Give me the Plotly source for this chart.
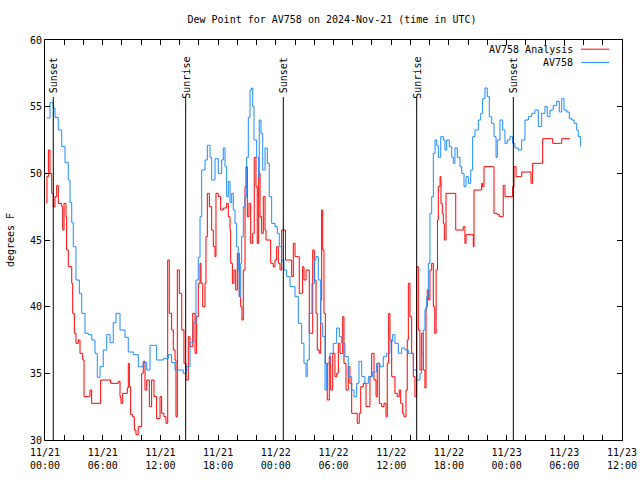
import pandas as pd
import plotly.graph_objects as go

START = pd.Timestamp("2024-11-21 00:00")

# AV758 (observed) - hours since 2024-11-21 00:00 UTC, dew point degF
obs_hours = [0.18, 0.52, 0.86, 1.04, 1.38, 1.74, 2.08, 2.42, 2.60, 2.78, 2.94, 3.22, 3.57, 3.82,
             4.16, 4.50, 4.86, 5.20, 5.44, 5.72, 6.06, 6.42, 6.76, 7.10, 7.38, 7.80, 8.32, 8.66,
             9.18, 9.70, 10.22, 10.58, 10.92, 11.26, 11.61, 12.30, 12.82, 13.17, 13.52, 14.04,
             14.38, 14.73, 15.08, 15.42, 15.70, 15.94, 16.12, 16.29, 16.64, 16.88, 17.16, 17.33,
             17.68, 18.02, 18.37, 18.54, 18.72, 18.89, 19.06, 19.24, 19.41, 19.58, 19.76, 19.93,
             20.10, 20.20, 20.35, 20.45, 20.62, 20.80, 20.97, 21.14, 21.32, 21.49, 21.60, 21.73,
             22.01, 22.22, 22.28, 22.46, 22.64, 22.88, 23.12, 23.32, 23.57, 23.92, 24.16, 24.36,
             24.61, 24.85, 25.13, 25.48, 26.00, 26.34, 26.69, 26.93, 27.14, 27.27, 27.48, 27.76,
             28.04, 28.18, 28.42, 28.67, 28.88, 29.12, 29.29, 29.63, 29.98, 30.33, 30.60, 30.85,
             31.19, 31.54, 31.89, 32.13, 32.41, 32.65, 32.93, 33.27, 33.62, 34.07, 34.49, 34.83,
             35.18, 35.53, 35.87, 36.15, 36.39, 36.74, 37.09, 37.43, 37.78, 38.30, 38.65, 38.99,
             39.17, 39.34, 39.51, 39.69, 39.86, 40.03, 40.21, 40.38, 40.56, 40.73, 40.90, 41.15,
             41.42, 41.59, 41.77, 42.04, 42.29, 42.46, 42.63, 42.87, 43.15, 43.33, 43.57, 43.78,
             44.02, 44.27, 44.47, 44.71, 45.06, 45.31, 45.51, 45.75, 45.99, 46.20, 46.45, 46.69,
             46.90, 47.03, 47.31, 47.59, 47.83, 48.07, 48.35, 48.63, 48.87, 49.22, 49.57, 49.91,
             50.26, 50.61, 50.95, 51.30, 51.65, 51.99, 52.23, 52.51, 52.85, 53.21, 53.48, 53.73,
             53.97, 54.25, 54.52, 54.77, 55.01, 55.29, 55.45, 55.70]
obs_values = [54.15, 55.3, 54.9, 54.2, 53.25, 52.0, 50.8, 49.5, 47.8, 46.3, 44.5, 42.0, 41.0, 39.5,
              38.0, 37.9, 37.5, 36.5, 34.7, 35.5, 36.75, 37.9, 37.3, 38.8, 39.5, 38.25, 37.7, 36.6,
              36.4, 35.5, 35.8, 35.25, 37.1, 37.1, 36.0, 36.1, 36.4, 35.8, 35.25, 35.25,
              35.0, 35.5, 37.3, 38.8, 42.0, 43.7, 46.75, 50.25, 51.0, 52.1, 51.2, 49.5,
              51.1, 50.0, 51.0, 51.9, 50.5, 48.25, 49.4, 47.8, 48.5, 47.25, 46.25, 44.5,
              42.75, 40.75, 43.25, 45.25, 47.5, 48.25, 51.2, 54.2, 56.25, 56.4, 55.0, 52.5,
              51.2, 49.7, 54.0, 53.0, 50.25, 51.9, 50.75, 48.25, 46.25, 46.0, 45.5, 44.5,
              43.5, 42.75, 42.25, 41.5, 40.75, 38.75, 37.25, 35.75, 34.75, 36.0, 39.5, 41.75,
              43.5, 43.75, 42.0, 38.75, 37.75, 33.75, 35.75, 36.5, 37.25, 38.4, 37.75, 37.25,
              36.25, 34.75, 33.75, 33.25, 34.25, 35.9, 34.75, 34.25, 34.75, 35.1, 35.75, 35.5,
              36.25, 36.5, 37.4, 37.9, 37.25, 36.5, 36.9, 36.75, 36.5, 35.25, 34.5, 35.0,
              36.5, 38.25, 39.75, 40.75, 43.25, 47.0, 48.25, 51.5, 52.5, 52.1, 51.2, 52.75,
              52.5, 51.75, 52.5, 52.0, 51.2, 50.75, 51.9, 51.2, 50.5, 50.0, 49.0, 49.75,
              49.25, 50.25, 52.75, 53.25, 54.0, 54.5, 55.6, 56.4, 55.75, 54.25, 53.75, 52.75,
              51.2, 52.5, 54.0, 53.25, 52.25, 52.5, 52.75, 52.25, 51.9, 51.75, 52.5, 54.0,
              54.25, 54.5, 54.75, 53.5, 54.5, 55.0, 54.25, 54.75, 55.1, 55.4, 54.6, 55.6,
              54.75, 54.6, 54.1, 54.0, 53.75, 53.25, 52.75, 52.0]

# AV758 Analysis
ana_hours = [0.10, 0.20, 0.35, 0.52, 0.70, 0.86, 1.04, 1.22, 1.38, 1.74, 1.84, 1.98, 2.18, 2.25,
             2.42, 2.78, 2.88, 3.05, 3.22, 3.46, 3.64, 3.92, 4.06, 4.50, 4.68, 4.85, 5.72, 5.79,
             6.58, 6.83, 7.62, 7.80, 7.90, 8.08, 8.56, 8.66, 8.77, 8.91, 9.12, 9.29, 9.46, 9.70,
             10.05, 10.22, 10.40, 10.58, 10.85, 11.09, 11.33, 11.61, 11.96, 12.13, 12.37, 12.58,
             12.76, 12.92, 13.17, 13.34, 13.52, 13.62, 13.76, 13.97, 14.22, 14.45, 14.66, 14.90,
             15.08, 15.36, 15.60, 15.77, 15.94, 16.12, 16.22, 16.40, 16.64, 16.74, 16.88, 17.09,
             17.33, 17.50, 17.68, 17.78, 18.02, 18.27, 18.54, 18.89, 19.06, 19.24, 19.31, 19.48,
             19.65, 19.83, 20.00, 20.20, 20.35, 20.48, 20.62, 20.80, 20.90, 21.04, 21.21, 21.39,
             21.60, 21.76, 21.94, 22.07, 22.22, 22.36, 22.53, 22.70, 22.88, 22.98, 23.40, 23.47,
             23.74, 23.92, 24.09, 24.26, 24.44, 24.61, 25.01, 25.48, 25.65, 25.82, 26.00, 26.34,
             26.44, 26.69, 26.79, 26.93, 27.14, 27.38, 27.48, 27.73, 27.84, 28.00, 28.18, 28.31,
             28.52, 28.67, 28.77, 28.88, 29.01, 29.15, 29.35, 29.56, 29.71, 29.92, 30.15, 30.33,
             30.50, 30.68, 30.96, 31.09, 31.30, 31.54, 31.71, 31.89, 32.23, 32.47, 32.68, 32.83,
             33.10, 33.38, 33.62, 33.79, 33.97, 34.21, 34.42, 34.55, 34.76, 35.01, 35.25, 35.46,
             35.59, 35.74, 35.87, 36.05, 36.22, 36.39, 36.63, 36.84, 36.99, 37.19, 37.33, 37.54,
             37.67, 37.78, 37.95, 38.13, 38.30, 38.47, 38.65, 38.82, 38.99, 39.17, 39.34, 39.51,
             39.62, 39.75, 39.90, 40.03, 40.21, 40.38, 40.53, 40.67, 40.81, 40.90, 41.08, 41.18,
             41.31, 41.42, 41.52, 41.70, 42.63, 42.71, 43.33, 43.50, 43.67, 43.78, 44.37, 44.54,
             44.61, 45.23, 45.41, 45.51, 45.65, 46.55, 46.69, 47.03, 47.24, 47.59, 47.65, 47.83,
             48.53, 48.63, 48.77, 48.98, 49.39, 49.57, 50.43, 50.54, 50.71, 51.65, 51.75, 52.69,
             52.79, 53.62, 53.73, 54.59]
ana_values = [47.8, 49.75, 51.75, 50.0, 48.5, 47.5, 48.25, 49.1, 47.75, 47.5, 45.75, 47.75, 46.75, 44.25,
              43.0, 41.75, 39.5, 38.0, 37.25, 37.5, 36.5, 36.0, 33.25, 33.25, 33.75, 32.75, 32.75, 34.5,
              34.5, 34.25, 34.4, 33.25, 32.75, 33.5, 33.9, 35.75, 34.0, 31.9, 31.75, 30.75, 30.4, 31.0,
              35.0, 35.9, 33.75, 34.5, 32.5, 34.5, 33.25, 31.6, 33.25, 32.0, 31.75, 31.25,
              43.5, 39.5, 38.25, 36.75, 36.0, 31.75, 42.75, 41.0, 38.25, 35.75, 34.5, 37.75,
              37.0, 39.5, 36.5, 39.25, 41.75, 43.25, 41.75, 40.0, 41.75, 45.25, 48.5, 47.5,
              45.75, 44.5, 43.75, 48.5, 48.25, 47.25, 47.4, 47.75, 46.75, 45.75, 43.25, 41.75,
              42.75, 41.25, 44.0, 40.75, 40.0, 39.0, 42.75, 49.0, 50.5, 46.75, 47.75, 44.75,
              45.5, 51.2, 49.0, 44.75, 50.0, 46.75, 45.5, 48.25, 45.75, 45.0, 45.0, 43.25,
              43.0, 43.5, 44.5, 43.25, 42.75, 45.75, 43.5, 43.5, 42.25, 44.75, 43.75, 43.75,
              41.0, 41.0, 43.0, 42.0, 42.75, 42.75, 38.0, 38.0, 44.25, 42.0, 39.5, 36.75,
              36.5, 40.5, 47.25, 44.25, 39.5, 35.75, 33.0, 36.25, 33.75, 36.5, 34.75, 35.0,
              37.25, 36.5, 39.25, 35.75, 33.75, 35.5, 34.25, 32.0, 32.0, 31.25, 32.0, 34.0,
              34.25, 32.5, 32.5, 34.75, 36.5, 34.5, 33.25, 35.75, 32.75, 32.5, 32.75, 31.75,
              35.75, 39.5, 37.5, 34.75, 34.75, 33.5, 33.25, 33.75, 32.75, 32.0, 31.75, 33.75,
              37.5, 41.75, 39.25, 36.5, 34.75, 33.25, 43.0, 38.25, 35.25, 38.0, 35.25, 33.9,
              40.0, 41.25, 40.5, 42.75, 43.25, 40.0, 38.0, 42.75, 46.5, 49.0, 49.75, 47.75,
              47.0, 46.25, 45.0, 48.5, 48.5, 45.75, 45.75, 46.0, 44.75, 45.4, 45.4, 44.5,
              48.75, 48.75, 49.25, 49.0, 50.5, 50.5, 47.0, 46.9, 46.75, 46.75, 49.1, 48.25,
              48.25, 49.0, 50.5, 49.75, 49.75, 50.1, 50.1, 49.25, 50.75, 50.75, 52.6, 52.6,
              52.25, 52.25, 52.6, 52.6]

# Sun events (hours since start)
sun_labels = ["Sunset", "Sunrise", "Sunset", "Sunrise", "Sunset"]
sun_hours = [0.86, 14.63, 24.78, 38.65, 48.70]

def to_time(hours):
    return [START + pd.Timedelta(hours=h) for h in hours]

FONT = "DejaVu Sans Mono"

fig = go.Figure()
fig.add_trace(go.Scatter(x=to_time(ana_hours), y=ana_values, mode="lines", line_shape="hv",
                         line=dict(color="#ff0000", width=1), name="AV758 Analysis"))
fig.add_trace(go.Scatter(x=to_time(obs_hours), y=obs_values, mode="lines", line_shape="hv",
                         line=dict(color="#1e8cff", width=1), name="AV758"))

for lab, t in zip(sun_labels, to_time(sun_hours)):
    fig.add_shape(type="line", xref="x", yref="paper", x0=t, x1=t, y0=0, y1=0.8575,
                  line=dict(color="black", width=1))
    fig.add_annotation(x=t, xref="x", y=0.9625, yref="paper", text=lab, textangle=-90,
                       showarrow=False, xanchor="center", yanchor="top",
                       font=dict(family=FONT, size=10, color="black"))

# legend drawn gnuplot-style (text then sample line)
legend_items = [("AV758 Analysis", "#ff0000", 0.977), ("AV758", "#1e8cff", 0.944)]
for txt, col, yy in legend_items:
    fig.add_annotation(x=0.918, xref="paper", y=yy, yref="paper", text=txt, showarrow=False,
                       xanchor="right", yanchor="middle", font=dict(family=FONT, size=10, color="black"))
    fig.add_shape(type="line", xref="paper", yref="paper", x0=0.929, x1=0.978, y0=yy, y1=yy,
                  line=dict(color=col, width=1))

fig.update_layout(
    width=640, height=480,
    margin=dict(l=45, r=18, t=40, b=40, autoexpand=False),
    paper_bgcolor="white", plot_bgcolor="white",
    showlegend=False, hovermode=False,
    font=dict(family=FONT, size=10, color="black"),
    title=dict(text="Dew Point for AV758 on 2024-Nov-21 (time in UTC)", x=332 / 640, xanchor="center",
               xref="container", yref="container", y=1 - 19 / 480, yanchor="middle",
               font=dict(family=FONT, size=10, color="black")),
)
fig.update_xaxes(
    type="date", range=[START, START + pd.Timedelta(hours=60)], automargin=False,
    tick0=START, dtick=6 * 3600 * 1000, tickformat="%m/%d<br>%H:%M",
    ticks="inside", ticklen=5, tickcolor="black", showgrid=False, zeroline=False,
    showline=True, linecolor="black", linewidth=1, mirror="allticks", ticklabelstandoff=3,
    ticklabeloverflow="allow",
    minor=dict(dtick=2 * 3600 * 1000, ticks="inside", ticklen=5, tickcolor="black", showgrid=False),
    tickfont=dict(family=FONT, size=10, color="black"),
)
fig.update_yaxes(
    range=[30, 60], dtick=5, tick0=30, automargin=False,
    ticks="inside", ticklen=5, tickcolor="black", showgrid=False, zeroline=False,
    showline=True, linecolor="black", linewidth=1, mirror="allticks",
    title=dict(text="degrees F", font=dict(family=FONT, size=10, color="black"), standoff=13),
    tickfont=dict(family=FONT, size=10, color="black"),
)

fig.write_html("out.html", config={"displayModeBar": False},
               post_script="document.body.style.margin='0';")
